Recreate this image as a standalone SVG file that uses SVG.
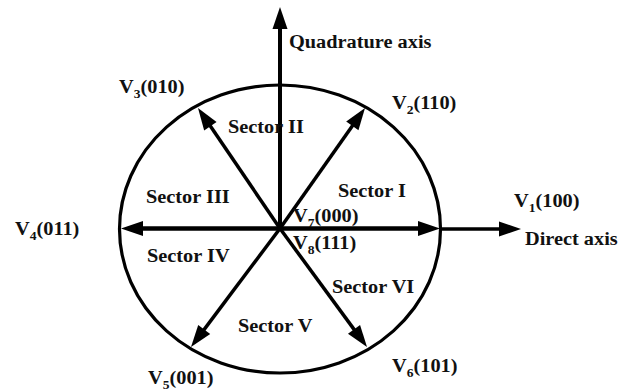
<svg xmlns="http://www.w3.org/2000/svg" width="619" height="392" viewBox="0 0 619 392">
<style>
text{font-family:"Liberation Serif","Times New Roman",serif;font-weight:bold;font-size:18px;fill:#111}
.sub{font-size:12px}
.vec{stroke:#000;stroke-width:3.5;fill:none;marker-end:url(#ah)}
</style>
<defs>
<marker id="ah" markerUnits="userSpaceOnUse" markerWidth="24" markerHeight="16" refX="14" refY="7.5" orient="auto" overflow="visible">
<path d="M0,0 L22,7.5 L0,15 Z" fill="#000"/>
</marker>
</defs>
<rect width="619" height="392" fill="#fff"/>
<g id="circle">
<ellipse cx="280" cy="229" rx="160.5" ry="144" fill="none" stroke="#000" stroke-width="3.2"/>
</g>
<g id="connectors">
<line class="vec" x1="280" y1="229" x2="280" y2="15" style="stroke-width:4"/>
<line class="vec" x1="280" y1="228.5" x2="432" y2="228.5" style="stroke-width:4.5"/>
<line class="vec" x1="440" y1="229" x2="513" y2="229" style="stroke-width:3.5"/>
<line class="vec" x1="280" y1="228.5" x2="129" y2="228.5" style="stroke-width:4.5"/>
<line class="vec" x1="280" y1="228.5" x2="360.4" y2="114.5"/>
<line class="vec" x1="280" y1="228.5" x2="202.5" y2="114.6"/>
<line class="vec" x1="280" y1="228.5" x2="195.8" y2="340.6"/>
<line class="vec" x1="280" y1="228.5" x2="362.3" y2="340.6"/>
</g>
<g id="quadrature-axis"><text transform="translate(289,48) scale(1.13,1)">Quadrature axis</text></g>
<g id="direct-axis"><text transform="translate(525,245) scale(1.13,1)">Direct axis</text></g>
<g id="v1"><text transform="translate(514,207) scale(1.13,1)">V<tspan class="sub" dy="5">1</tspan><tspan dy="-5">(100)</tspan></text></g>
<g id="v2"><text transform="translate(392,109) scale(1.13,1)">V<tspan class="sub" dy="5">2</tspan><tspan dy="-5">(110)</tspan></text></g>
<g id="v3"><text transform="translate(119,93) scale(1.13,1)">V<tspan class="sub" dy="5">3</tspan><tspan dy="-5">(010)</tspan></text></g>
<g id="v4"><text transform="translate(15,235) scale(1.13,1)">V<tspan class="sub" dy="5">4</tspan><tspan dy="-5">(011)</tspan></text></g>
<g id="v5"><text transform="translate(148,384) scale(1.13,1)">V<tspan class="sub" dy="5">5</tspan><tspan dy="-5">(001)</tspan></text></g>
<g id="v6"><text transform="translate(392,372) scale(1.13,1)">V<tspan class="sub" dy="5">6</tspan><tspan dy="-5">(101)</tspan></text></g>
<g id="v7"><text transform="translate(293,222) scale(1.13,1)">V<tspan class="sub" dy="5">7</tspan><tspan dy="-5">(000)</tspan></text></g>
<g id="v8"><text transform="translate(293,249) scale(1.13,1)">V<tspan class="sub" dy="5">8</tspan><tspan dy="-5">(111)</tspan></text></g>
<g id="sector-1"><text transform="translate(338,197) scale(1.13,1)">Sector I</text></g>
<g id="sector-2"><text transform="translate(228,133) scale(1.13,1)">Sector II</text></g>
<g id="sector-3"><text transform="translate(146,203) scale(1.13,1)">Sector III</text></g>
<g id="sector-4"><text transform="translate(147,262) scale(1.13,1)">Sector IV</text></g>
<g id="sector-5"><text transform="translate(238,332) scale(1.13,1)">Sector V</text></g>
<g id="sector-6"><text transform="translate(332,293) scale(1.13,1)">Sector VI</text></g>
</svg>
